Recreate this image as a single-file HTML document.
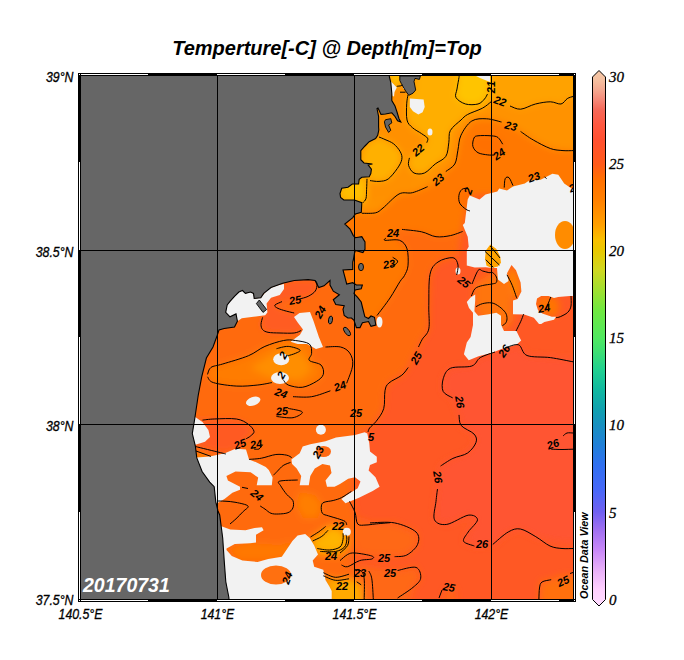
<!DOCTYPE html><html><head><meta charset="utf-8"><style>html,body{margin:0;padding:0;background:#fff}body{width:684px;height:660px;overflow:hidden}svg{display:block}text{font-family:"Liberation Sans",sans-serif}</style></head><body>
<svg width="684" height="660" viewBox="0 0 684 660">
<defs><clipPath id="cd"><rect x="81" y="76" width="492" height="523"/></clipPath><filter id="bl" x="-5%" y="-5%" width="110%" height="110%"><feGaussianBlur stdDeviation="3.5"/></filter>
<linearGradient id="cb" gradientUnits="userSpaceOnUse" x1="0" y1="70" x2="0" y2="606"><stop offset="0.0" stop-color="#F5C8A8"/><stop offset="0.0187" stop-color="#F5C0A0"/><stop offset="0.0373" stop-color="#F4A890"/><stop offset="0.056" stop-color="#F58878"/><stop offset="0.0746" stop-color="#F56858"/><stop offset="0.1026" stop-color="#FF5840"/><stop offset="0.1306" stop-color="#FF5030"/><stop offset="0.1754" stop-color="#FF5A1A"/><stop offset="0.2052" stop-color="#FF7000"/><stop offset="0.2425" stop-color="#FF8000"/><stop offset="0.2892" stop-color="#FFA000"/><stop offset="0.3172" stop-color="#F8C000"/><stop offset="0.3377" stop-color="#E8C800"/><stop offset="0.3731" stop-color="#D0D820"/><stop offset="0.4104" stop-color="#A0E030"/><stop offset="0.4478" stop-color="#70E840"/><stop offset="0.5" stop-color="#50E860"/><stop offset="0.5224" stop-color="#40E070"/><stop offset="0.5597" stop-color="#20D090"/><stop offset="0.597" stop-color="#10B8A0"/><stop offset="0.6343" stop-color="#10A0B0"/><stop offset="0.6623" stop-color="#1890C0"/><stop offset="0.6996" stop-color="#2080D8"/><stop offset="0.7369" stop-color="#3070F0"/><stop offset="0.7836" stop-color="#4868F8"/><stop offset="0.8246" stop-color="#7060F0"/><stop offset="0.8582" stop-color="#A070F0"/><stop offset="0.8955" stop-color="#C888F8"/><stop offset="0.9328" stop-color="#E8B0F8"/><stop offset="0.9701" stop-color="#FFD0FF"/><stop offset="1.0" stop-color="#FFDCFF"/></linearGradient>
</defs>
<g clip-path="url(#cd)">
<rect x="81" y="76" width="492" height="523" fill="#FF5824"/>
<g filter="url(#bl)">
<polygon points="518.5,344.8 527.0,355.5 550.3,357.6 620.0,362.0 620.0,547.5 554.2,541.3 535.8,536.7 520.4,529.0 508.2,532.0 492.8,544.4 474.4,546.0 463.6,541.3 468.2,532.0 477.5,519.8 468.2,515.2 446.8,524.4 434.5,519.8 436.0,501.4 437.5,489.0 440.6,466.0 452.9,458.4 467.6,453.0 476.0,442.4 474.0,434.0 461.2,425.5 459.0,414.9 452.7,397.9 443.2,391.5 443.2,378.8 450.6,368.2 471.8,366.0 480.3,357.6 505.0,350.0" fill="#FF5530" />
<polygon points="40.0,40.0 620.0,40.0 620.0,190.0 469.7,195.5 462.8,225.0 458.6,256.0 438.0,262.0 430.0,274.4 428.8,305.7 428.8,328.9 422.3,339.2 418.5,347.0 408.2,367.5 401.8,375.2 388.9,383.0 385.0,390.7 383.7,408.7 376.0,421.5 369.6,428.0 355.0,434.0 352.0,500.0 355.0,515.0 357.0,524.0 352.0,560.0 362.0,640.0 40.0,640.0" fill="#FF6A0E" />
<polygon points="262.6,317.4 261.0,324.4 262.6,329.6 268.0,332.3 280.0,333.0 294.2,333.0 301.2,330.5 305.0,320.0 294.2,313.0 283.7,310.4 276.7,307.7 275.0,305.0 282.0,301.6 299.5,299.0 308.2,296.3 315.3,291.0 317.0,284.0 315.3,280.5 290.0,280.0 265.0,300.0" fill="#FF5C20" />
<polygon points="40.0,40.0 620.0,40.0 620.0,190.0 469.7,195.5 462.8,225.0 462.6,231.5 450.4,235.6 436.0,236.7 421.5,231.8 402.0,229.4 392.0,234.0 400.0,244.0 407.0,248.8 408.0,265.8 404.5,275.5 400.0,281.5 390.0,298.0 377.0,315.5 366.0,326.0 354.0,300.0 340.0,283.0 300.0,272.0 40.0,272.0" fill="#FF7800" />
<polygon points="207.5,374.4 211.0,367.4 222.7,364.0 248.5,355.7 264.9,346.4 283.6,340.5 295.3,340.5 309.3,344.0 311.6,353.4 309.3,360.4 321.0,365.0 323.3,374.4 316.3,381.5 302.3,387.3 288.2,385.0 283.6,380.3 271.9,382.6 257.8,385.0 236.8,386.1 213.4,382.6" fill="#FF7C00" />
<polygon points="250.0,368.0 275.0,352.0 292.0,348.0 305.0,356.0 312.0,370.0 300.0,380.0 270.0,378.0" fill="#FF8E00" />
<polygon points="478.0,135.8 491.0,135.8 501.5,138.0 505.0,147.0 500.0,156.0 487.7,154.9 478.0,152.7 472.9,146.4 474.0,138.0" fill="#FF7000" />
<polygon points="465.5,188.2 459.4,192.7 458.6,203.3 464.0,209.4 470.0,211.0 472.0,195.0" fill="#FF7000" />
<polygon points="40.0,40.0 620.0,40.0 620.0,150.6 563.0,150.6 550.3,148.5 533.3,140.0 520.6,131.5 501.5,122.0 486.7,118.8 471.8,121.0 461.0,135.2 457.9,150.3 454.8,164.0 445.8,171.5 438.0,180.0 427.6,186.7 412.4,192.7 399.0,194.0 383.0,208.0 375.6,212.8 361.8,213.3 40.0,213.0" fill="#FF9200" />
<polygon points="380.0,40.0 420.0,40.0 414.0,90.0 408.0,94.8 406.7,103.8 407.0,120.0 412.4,127.6 421.5,133.6 427.6,138.2 426.8,142.7 418.0,150.0 409.4,157.9 408.6,165.5 414.0,173.0 424.5,173.0 400.0,195.0 370.0,200.0 350.0,160.0" fill="#FF9000" />
<polygon points="420.0,40.0 620.0,40.0 620.0,96.5 567.3,98.6 561.0,104.0 550.3,101.8 535.5,104.0 520.6,109.2 510.0,106.0 500.0,100.0 491.0,101.8 482.4,108.2 467.6,114.5 461.0,120.0 450.3,130.6 448.8,142.7 445.8,156.4 435.2,164.0 424.5,173.0 414.0,173.0 408.6,165.5 409.4,157.9 418.0,150.0 426.8,142.7 427.6,138.2 421.5,133.6 412.4,127.6 407.0,120.0 406.7,103.8 408.0,94.8 414.0,90.0" fill="#FFAE00" />
<polygon points="379.0,137.0 392.7,144.2 400.3,151.8 401.8,159.4 397.3,168.5 388.2,179.0 379.0,181.4 370.0,180.6 360.0,160.0 365.0,145.0" fill="#FFB000" />
<polygon points="366.0,178.0 366.6,189.4 366.0,200.0 362.9,202.7 340.0,200.0 340.0,185.0 358.0,177.0" fill="#FFBE00" />
<polygon points="389.0,40.0 400.0,40.0 401.0,84.0 397.0,86.5 391.0,84.0" fill="#FFC400" />
<polygon points="459.0,40.0 459.0,77.4 457.0,89.0 456.0,97.6 465.5,104.0 478.0,104.0 485.6,97.6 488.8,84.8 490.0,40.0" fill="#FFC400" />
<polygon points="474.0,284.0 497.0,270.0 508.0,281.0 513.0,300.0 513.0,320.0 504.0,331.0 478.0,316.0 474.0,300.0" fill="#FF7410" />
<polygon points="507.0,273.0 511.5,265.0 516.0,270.3 520.6,282.4 521.4,291.5 517.6,299.0 513.0,297.6 508.5,281.0" fill="#FF8200" />
<polygon points="537.0,297.0 556.0,297.0 560.0,306.0 556.0,317.0 542.0,314.0 536.0,304.0" fill="#FF7400" />
<polygon points="193.0,419.0 202.5,420.1 214.2,419.0 236.5,419.0 248.2,424.2 254.0,431.3 250.5,436.0 245.8,438.9 240.0,448.0 224.0,453.0 196.0,447.0" fill="#FF5A20" />
<polygon points="196.0,452.0 211.0,456.0 205.0,462.0 196.0,460.0" fill="#FF8400" />
<polygon points="355.0,518.0 370.0,522.9 394.6,522.9 416.0,532.0 417.6,544.4 406.8,555.0 394.6,556.7 373.0,556.7 355.0,553.0" fill="#FF6812" />
<polygon points="355.0,565.0 382.0,569.0 397.6,570.5 416.0,567.4 420.7,578.2 413.0,587.4 397.6,640.0 355.0,640.0" fill="#FF6812" />
<polygon points="442.0,640.0 445.0,590.0 455.0,588.0 460.0,640.0" fill="#FF6414" />
<polygon points="491.0,40.0 620.0,40.0 620.0,96.5 567.3,98.6 561.0,104.0 550.3,101.8 535.5,104.0 520.6,109.2 510.0,106.0 500.0,100.0 491.0,101.8" fill="#FFA200" />
<polygon points="538.9,640.0 540.4,581.2 551.2,579.7 560.0,576.0 620.0,572.0 620.0,640.0" fill="#FF7010" />
<polygon points="310.5,537.0 318.8,531.8 325.6,526.5 335.0,524.0 346.0,530.0 350.0,540.0 348.0,550.0 340.0,556.0 320.0,556.0 312.0,548.0" fill="#FF9000" />
<polygon points="312.7,541.0 321.8,536.4 328.0,530.3 335.0,528.0 343.0,533.3 346.0,539.4 344.5,547.0 335.5,551.5 320.3,551.5 314.0,546.0" fill="#FFB400" />
<polygon points="323.3,575.8 335.5,580.3 349.0,578.8 356.7,581.8 361.2,584.8 366.0,640.0 331.7,640.0 328.0,585.0" fill="#FFAA00" />
<polygon points="300.0,492.0 315.0,495.0 322.0,505.0 318.0,518.0 303.0,518.0 296.0,505.0" fill="#FF7E00" />
<polygon points="228.0,548.0 250.0,543.0 280.0,545.0 292.0,541.0 290.0,556.0 268.0,560.0 240.0,560.0" fill="#FF7800" />
</g>
<polygon points="476.0,76.0 490.0,76.0 490.0,82.0 485.0,80.0 480.0,78.0" fill="#F2F2F2" />
<polygon points="389.0,79.0 391.0,81.5 396.8,87.6 394.5,92.0 394.0,96.5 392.5,96.0 391.0,88.0" fill="#F2F2F2" />
<polygon points="403.0,85.8 405.0,86.0 405.2,89.0 403.2,89.0" fill="#F2F2F2" />
<polygon points="409.8,98.5 423.6,99.6 424.7,107.0 422.6,112.3 418.3,114.4 413.0,111.2 409.8,107.0" fill="#F2F2F2" />
<polygon points="220.0,300.0 227.2,305.0 230.0,301.4 234.5,296.3 238.9,292.0 242.5,290.5 245.4,293.4 250.6,292.0 253.5,293.4 254.2,298.5 260.8,297.8 268.0,289.0 276.9,285.4 284.0,283.9 284.0,289.0 279.8,294.9 271.0,297.8 266.6,303.6 267.4,312.4 265.2,315.3 253.5,316.8 241.8,318.2 237.4,321.2 236.0,313.9 230.0,316.8 225.7,312.4" fill="#F2F2F2" />
<polygon points="294.0,317.0 299.5,313.0 310.0,312.0 313.5,321.0 318.8,336.7 323.0,347.0 316.0,349.0 307.0,344.0 297.6,344.0 290.6,341.7 300.0,334.7 303.0,329.6 297.7,322.6" fill="#F2F2F2" />
<polygon points="190.0,417.0 195.5,417.2 202.5,421.9 208.4,430.0 210.0,437.0 205.0,441.8 195.5,444.7 190.0,440.0" fill="#F2F2F2" />
<polygon points="190.0,458.0 209.7,456.4 224.8,453.3 235.5,448.8 246.0,449.5 249.0,459.4 256.7,462.4 265.8,467.0 268.8,470.0 272.6,477.6 271.8,485.2 256.7,485.2 258.2,477.6 250.6,472.3 235.5,471.5 226.4,476.0 227.9,480.6 240.0,486.7 240.0,489.7 232.4,492.7 224.8,498.8 217.3,503.3 200.0,503.0" fill="#F2F2F2" />
<polygon points="291.4,459.4 299.7,453.3 302.7,446.5 310.3,444.2 325.5,441.2 336.0,437.4 355.0,435.0 364.6,432.3 367.3,433.6 369.3,443.2 370.0,451.4 376.8,456.8 376.8,462.3 370.0,465.0 368.6,470.5 375.5,477.3 379.6,486.8 372.7,491.0 359.0,497.8 345.5,503.2 341.4,499.0 346.8,495.0 357.7,488.2 360.5,481.4 355.0,477.3 348.2,478.7 340.0,484.0 334.5,486.7 327.0,486.7 325.5,480.6 331.5,473.0 330.0,465.5 322.4,464.0 314.8,468.5 310.3,476.0 308.8,485.2 299.7,485.2 301.2,476.0 296.7,468.5 292.1,464.0" fill="#F2F2F2" />
<polygon points="218.0,525.0 230.3,529.5 245.5,530.3 254.5,528.0 262.0,527.3 263.6,530.3 256.0,534.8 256.0,542.4 250.0,543.2 234.8,544.0 226.5,548.5 226.5,550.0 231.8,556.0 242.4,560.6 257.6,562.0 268.2,559.0 281.8,556.8 289.4,545.5 292.4,541.0 297.6,535.6 305.2,534.0 309.7,537.9 314.2,545.5 318.0,554.5 312.7,560.6 314.2,566.7 323.3,569.7 325.6,580.3 329.4,586.4 331.7,591.0 331.7,599.0 218.0,599.0" fill="#F2F2F2" />
<polygon points="469.7,195.5 479.5,199.4 485.5,194.5 497.3,191.5 499.2,188.6 507.0,190.5 513.0,186.6 524.8,183.6 528.8,180.7 540.6,179.7 552.4,173.8 558.3,174.8 564.2,183.6 573.0,189.5 573.0,296.0 569.8,296.0 558.2,297.0 554.0,298.0 548.6,296.0 541.2,296.0 537.0,298.6 536.0,304.0 538.0,310.3 542.3,313.5 551.8,316.7 556.0,316.7 554.0,319.8 544.4,322.0 541.2,324.0 539.0,324.0 533.8,317.7 524.2,314.5 513.0,314.2 513.0,300.6 517.6,299.0 521.4,291.5 520.6,282.4 516.0,270.3 511.5,265.0 507.0,273.3 508.5,281.0 504.0,284.0 497.9,279.4 497.0,268.0 491.8,268.0 485.8,267.3 474.7,267.6 466.8,265.6 466.8,250.0 468.7,246.7 467.7,236.8 462.8,225.0 464.8,223.0 467.7,199.4" fill="#F2F2F2" />
<polygon points="475.2,294.5 470.6,297.6 466.8,302.0 469.0,308.0 473.0,312.7 473.0,325.0 470.6,337.0 466.8,342.5 463.9,354.3 468.8,360.2 478.6,356.3 492.0,352.7 504.2,348.0 516.4,344.8 521.2,340.6 520.0,338.2 516.4,331.0 511.5,331.0 504.0,331.0 501.0,324.8 501.0,315.8 496.4,312.7 488.8,314.2 478.2,315.8 474.4,311.2 475.2,300.6" fill="#F2F2F2" />
<ellipse cx="458" cy="271" rx="2.5" ry="3.5" transform="rotate(0 458 271)" fill="#F2F2F2"/>
<ellipse cx="281.2" cy="359.2" rx="8" ry="6" transform="rotate(0 281.2 359.2)" fill="#F2F2F2"/>
<ellipse cx="280" cy="378" rx="9" ry="6" transform="rotate(0 280 378)" fill="#F2F2F2"/>
<ellipse cx="253.2" cy="401.3" rx="7.5" ry="4.2" transform="rotate(-20 253.2 401.3)" fill="#F2F2F2"/>
<ellipse cx="320.9" cy="429.8" rx="5" ry="5" transform="rotate(0 320.9 429.8)" fill="#F2F2F2"/>
<ellipse cx="346.8" cy="531.8" rx="4" ry="4" transform="rotate(0 346.8 531.8)" fill="#F2F2F2"/>
<ellipse cx="430" cy="132" rx="2.5" ry="3.5" transform="rotate(0 430 132)" fill="#F2F2F2"/>
<ellipse cx="379.5" cy="322" rx="3" ry="5.5" transform="rotate(0 379.5 322)" fill="#F2F2F2"/>
<ellipse cx="565" cy="235" rx="10" ry="14" fill="#FF8C00"/>
<ellipse cx="323.5" cy="451.5" rx="7.5" ry="5.5" fill="#FF6A14"/>
<ellipse cx="276" cy="575" rx="15" ry="9.5" fill="#FF7010"/>
<polygon points="490.3,244.5 496.4,249.0 500.2,256.7 501.0,262.7 497.9,266.5 491.8,268.0 486.5,265.8 485.0,258.2 485.8,250.6" fill="#FFA400" />
<polygon points="81.0,76.0 389.2,76.0 390.8,82.6 391.8,93.0 391.8,100.6 395.0,106.0 397.0,112.0 399.0,118.7 400.8,122.0 397.6,120.8 395.0,116.5 391.8,112.8 385.5,114.0 381.0,114.4 378.0,108.0 377.0,108.6 378.6,116.5 378.6,127.0 378.8,130.0 377.7,135.3 375.6,138.5 369.2,141.7 365.0,146.0 360.8,150.7 360.8,159.7 364.0,163.0 372.4,164.0 368.2,165.0 371.4,169.2 370.8,173.5 369.2,176.7 361.8,177.2 359.2,179.3 358.6,184.0 352.3,184.0 348.0,187.3 341.7,188.3 340.0,193.6 340.6,197.4 343.8,200.0 354.4,200.0 361.8,202.7 361.3,212.3 355.4,213.9 352.8,217.6 344.8,224.0 350.1,229.2 353.3,235.6 355.4,237.7 361.8,236.7 365.0,242.0 365.0,249.4 362.9,252.6 355.4,250.4 354.4,253.6 353.3,260.0 352.7,262.0 352.7,269.4 343.0,270.0 346.7,284.0 352.7,282.7 356.4,285.0 362.4,285.0 361.2,288.8 355.0,290.0 354.0,293.6 357.6,297.3 361.2,302.0 362.4,307.0 364.8,316.7 368.5,318.5 371.0,316.0 374.5,317.3 375.8,325.0 371.0,326.4 368.5,321.5 362.4,322.7 360.0,327.6 356.4,327.6 354.0,320.3 351.5,318.0 347.9,318.0 344.2,315.5 343.0,309.4 344.2,305.8 335.8,304.5 333.3,299.7 339.4,294.8 333.3,291.2 330.0,285.0 330.0,280.5 324.0,285.8 318.8,287.5 315.0,280.5 308.2,279.6 294.2,280.5 282.7,283.2 271.0,287.5 263.7,293.4 260.8,297.8 254.2,298.5 253.5,293.4 250.6,292.0 245.4,293.4 242.5,290.5 238.9,292.0 234.5,296.3 230.0,301.4 227.2,305.0 225.7,312.4 230.0,316.8 236.0,313.9 237.4,321.2 234.5,327.0 224.2,328.5 219.0,330.0 217.0,336.0 213.0,347.0 206.4,358.0 201.7,376.8 198.2,395.5 194.7,419.0 192.3,433.6 195.3,445.8 196.8,457.9 202.1,471.5 209.7,482.1 214.2,486.7 215.8,501.8 218.0,511.0 219.7,515.0 222.7,538.0 224.2,560.6 225.8,581.8 228.8,597.0 229.0,599.0 81.0,599.0" fill="#666666" />
<polygon points="385.5,119.7 390.8,118.7 391.8,122.9 388.6,125.0 390.8,130.3 388.6,132.4 385.5,127.0 384.4,121.8" fill="#666666" stroke="#000" stroke-width="0.9"/>
<polygon points="399.8,76.0 420.4,76.0 419.4,79.4 415.0,78.4 414.0,81.5 415.7,90.0 413.0,93.2 408.8,95.3 405.6,91.0 401.4,83.7 399.8,80.5" fill="#666666" stroke="#000" stroke-width="0.9"/>
<polygon points="256.4,303.6 259.3,300.0 266.6,309.5 263.0,312.4" fill="#666666" stroke="#000" stroke-width="0.9"/>
<ellipse cx="361" cy="267" rx="2.5" ry="3.7" transform="rotate(0 361 267)" fill="#666666" stroke="#000" stroke-width="0.9"/>
<ellipse cx="347" cy="331.5" rx="2.2" ry="5" transform="rotate(-35 347 331.5)" fill="#666666" stroke="#000" stroke-width="0.9"/>
<ellipse cx="330.5" cy="320" rx="2" ry="4" transform="rotate(10 330.5 320)" fill="#666666" stroke="#000" stroke-width="0.9"/>
<polyline points="389.2,76.0 390.8,82.6 391.8,93.0 391.8,100.6 395.0,106.0 397.0,112.0 399.0,118.7 400.8,122.0 397.6,120.8 395.0,116.5 391.8,112.8 385.5,114.0 381.0,114.4 378.0,108.0 377.0,108.6 378.6,116.5 378.6,127.0 378.8,130.0 377.7,135.3 375.6,138.5 369.2,141.7 365.0,146.0 360.8,150.7 360.8,159.7 364.0,163.0 372.4,164.0 368.2,165.0 371.4,169.2 370.8,173.5 369.2,176.7 361.8,177.2 359.2,179.3 358.6,184.0 352.3,184.0 348.0,187.3 341.7,188.3 340.0,193.6 340.6,197.4 343.8,200.0 354.4,200.0 361.8,202.7 361.3,212.3 355.4,213.9 352.8,217.6 344.8,224.0 350.1,229.2 353.3,235.6 355.4,237.7 361.8,236.7 365.0,242.0 365.0,249.4 362.9,252.6 355.4,250.4 354.4,253.6 353.3,260.0 352.7,262.0 352.7,269.4 343.0,270.0 346.7,284.0 352.7,282.7 356.4,285.0 362.4,285.0 361.2,288.8 355.0,290.0 354.0,293.6 357.6,297.3 361.2,302.0 362.4,307.0 364.8,316.7 368.5,318.5 371.0,316.0 374.5,317.3 375.8,325.0 371.0,326.4 368.5,321.5 362.4,322.7 360.0,327.6 356.4,327.6 354.0,320.3 351.5,318.0 347.9,318.0 344.2,315.5 343.0,309.4 344.2,305.8 335.8,304.5 333.3,299.7 339.4,294.8 333.3,291.2 330.0,285.0 330.0,280.5 324.0,285.8 318.8,287.5 315.0,280.5 308.2,279.6 294.2,280.5 282.7,283.2 271.0,287.5 263.7,293.4 260.8,297.8 254.2,298.5 253.5,293.4 250.6,292.0 245.4,293.4 242.5,290.5 238.9,292.0 234.5,296.3 230.0,301.4 227.2,305.0 225.7,312.4 230.0,316.8 236.0,313.9 237.4,321.2 234.5,327.0 224.2,328.5 219.0,330.0 217.0,336.0 213.0,347.0 206.4,358.0 201.7,376.8 198.2,395.5 194.7,419.0 192.3,433.6 195.3,445.8 196.8,457.9 202.1,471.5 209.7,482.1 214.2,486.7 215.8,501.8 218.0,511.0 219.7,515.0 222.7,538.0 224.2,560.6 225.8,581.8 228.8,597.0 229.0,599.0" fill="none" stroke="#000" stroke-width="1.1"/>
<path d="M459.0,76.0 C459.0,76.2 459.3,75.2 459.0,77.4 C458.7,79.6 457.5,85.6 457.0,89.0 C456.5,92.4 454.6,95.1 456.0,97.6 C457.4,100.1 461.8,102.9 465.5,104.0 C469.2,105.1 474.8,104.8 478.0,104.0 C481.2,103.2 482.9,100.7 484.5,99.0 C486.1,97.3 487.0,94.8 487.5,94.0" fill="none" stroke="#000" stroke-width="1" stroke-linejoin="round" />
<path d="M408.0,94.8 C407.8,96.3 406.9,99.6 406.7,103.8 C406.5,108.0 406.1,116.0 407.0,120.0 C407.9,124.0 410.0,125.3 412.4,127.6 C414.8,129.9 419.0,131.8 421.5,133.6 C424.0,135.4 426.7,136.7 427.6,138.2 C428.5,139.7 426.9,141.9 426.8,142.7" fill="none" stroke="#000" stroke-width="1" stroke-linejoin="round" />
<path d="M409.4,157.9 C409.3,159.2 407.8,163.0 408.6,165.5 C409.4,168.0 411.4,171.8 414.0,173.0 C416.6,174.2 421.0,174.5 424.5,173.0 C428.0,171.5 431.6,166.8 435.2,164.0 C438.8,161.2 443.5,160.0 445.8,156.4 C448.1,152.8 448.1,147.0 448.8,142.7 C449.6,138.4 448.3,134.4 450.3,130.6 C452.3,126.8 458.1,122.7 461.0,120.0 C463.9,117.3 464.0,116.5 467.6,114.5 C471.2,112.5 478.5,110.3 482.4,108.2 C486.3,106.1 489.6,102.9 491.0,101.8" fill="none" stroke="#000" stroke-width="1" stroke-linejoin="round" />
<path d="M510.0,106.0 C511.8,106.5 516.4,109.5 520.6,109.2 C524.9,108.9 530.5,105.2 535.5,104.0 C540.5,102.8 546.0,101.8 550.3,101.8 C554.5,101.8 558.2,104.5 561.0,104.0 C563.8,103.5 565.3,99.8 567.3,98.6 C569.3,97.3 572.0,96.8 573.0,96.5" fill="none" stroke="#000" stroke-width="1" stroke-linejoin="round" />
<path d="M379.0,137.0 C380.0,137.4 382.6,138.4 385.0,139.5 C387.4,140.6 391.1,141.8 393.6,143.8 C396.2,145.9 398.9,149.2 400.3,151.8 C401.7,154.4 402.3,156.6 401.8,159.4 C401.3,162.2 399.6,165.2 397.3,168.5 C395.0,171.8 391.2,176.8 388.2,179.0 C385.1,181.2 382.0,181.1 379.0,181.4 C376.0,181.7 371.5,180.7 370.0,180.6" fill="none" stroke="#000" stroke-width="1" stroke-linejoin="round" />
<path d="M367.0,178.8 C366.9,180.6 366.8,186.1 366.6,189.4 C366.4,192.7 366.6,196.3 366.0,198.5 C365.4,200.7 363.4,202.0 362.9,202.7" fill="none" stroke="#000" stroke-width="1" stroke-linejoin="round" />
<path d="M361.8,213.3 C364.1,213.2 372.1,213.7 375.6,212.8 C379.1,211.9 379.1,211.1 383.0,208.0 C386.9,204.9 394.1,196.6 399.0,194.0 C403.9,191.4 407.6,193.9 412.4,192.7 C417.2,191.5 425.1,187.7 427.6,186.7" fill="none" stroke="#000" stroke-width="1" stroke-linejoin="round" />
<path d="M445.8,171.5 C447.3,170.2 452.8,167.5 454.8,164.0 C456.8,160.5 456.9,155.1 457.9,150.3 C458.9,145.5 458.7,140.1 461.0,135.2 C463.3,130.3 467.5,123.7 471.8,121.0 C476.1,118.3 481.8,118.6 486.7,118.8 C491.6,119.0 499.0,121.5 501.5,122.0" fill="none" stroke="#000" stroke-width="1" stroke-linejoin="round" />
<path d="M520.6,131.5 C522.7,132.9 528.3,137.2 533.3,140.0 C538.2,142.8 545.3,146.7 550.3,148.5 C555.2,150.3 559.2,150.2 563.0,150.6 C566.8,150.9 571.3,150.6 573.0,150.6" fill="none" stroke="#000" stroke-width="1" stroke-linejoin="round" />
<path d="M494.0,155.0 C492.9,155.0 490.4,155.3 487.7,154.9 C485.0,154.5 480.5,154.1 478.0,152.7 C475.5,151.3 473.6,148.8 472.9,146.4 C472.2,144.0 473.1,139.8 474.0,138.0 C474.9,136.2 475.2,136.2 478.0,135.8 C480.8,135.4 487.7,135.5 491.0,135.8 C494.3,136.1 496.1,136.1 498.0,137.5 C499.9,138.9 501.9,143.1 502.7,144.2" fill="none" stroke="#000" stroke-width="1" stroke-linejoin="round" />
<path d="M468.0,188.0 C467.0,188.2 463.3,188.2 461.8,189.5 C460.3,190.8 459.2,193.2 458.9,195.5 C458.6,197.8 458.6,201.0 459.8,203.3 C461.0,205.6 464.1,207.9 465.8,209.2 C467.5,210.5 469.3,210.7 470.0,211.0" fill="none" stroke="#000" stroke-width="1" stroke-linejoin="round" />
<path d="M504.2,187.6 C504.4,186.1 504.4,180.3 505.2,178.7 C506.0,177.0 507.7,176.5 509.0,177.7 C510.3,178.8 512.3,184.3 513.0,185.6" fill="none" stroke="#000" stroke-width="1" stroke-linejoin="round" />
<path d="M544.5,176.7 L546.5,178.7" fill="none" stroke="#000" stroke-width="1" stroke-linejoin="round" />
<path d="M462.6,231.5 C460.6,232.2 454.8,234.7 450.4,235.6 C446.0,236.5 440.8,237.3 436.0,236.7 C431.2,236.1 427.2,233.0 421.5,231.8 C415.8,230.6 405.2,229.8 402.0,229.4" fill="none" stroke="#000" stroke-width="1" stroke-linejoin="round" />
<path d="M386.0,238.0 C385.8,238.4 382.7,239.9 385.0,240.3 C387.3,240.7 395.9,238.9 399.6,240.3 C403.3,241.7 405.6,244.6 407.0,248.8 C408.4,253.1 408.4,261.4 408.0,265.8 C407.6,270.2 405.8,272.9 404.5,275.5 C403.2,278.1 402.4,277.8 400.0,281.5 C397.6,285.2 393.8,292.3 390.0,298.0 C386.2,303.7 379.2,312.6 377.0,315.5" fill="none" stroke="#000" stroke-width="1" stroke-linejoin="round" />
<path d="M392.7,257.3 C393.5,257.9 397.2,259.8 397.6,261.0 C398.0,262.2 396.4,263.7 395.2,264.5 C394.0,265.3 391.1,265.6 390.3,265.8" fill="none" stroke="#000" stroke-width="1" stroke-linejoin="round" />
<path d="M456.7,275.0 C456.9,273.3 458.6,267.9 458.0,265.0 C457.4,262.1 456.3,258.2 453.0,257.7 C449.7,257.2 441.8,259.2 438.0,262.0 C434.2,264.8 431.5,267.1 430.0,274.4 C428.5,281.7 429.0,296.6 428.8,305.7 C428.6,314.8 429.9,323.3 428.8,328.9 C427.7,334.5 424.0,336.2 422.3,339.2 C420.6,342.2 419.1,345.7 418.5,347.0" fill="none" stroke="#000" stroke-width="1" stroke-linejoin="round" />
<path d="M408.2,367.5 C407.1,368.8 405.0,372.6 401.8,375.2 C398.6,377.8 391.7,380.4 388.9,383.0 C386.1,385.6 385.9,386.4 385.0,390.7 C384.1,395.0 385.2,403.6 383.7,408.7 C382.2,413.8 378.4,418.3 376.0,421.5 C373.6,424.7 370.9,426.2 369.6,428.0 C368.3,429.8 368.3,431.3 368.0,432.0" fill="none" stroke="#000" stroke-width="1" stroke-linejoin="round" />
<path d="M505.0,348.0 C507.2,347.5 514.8,343.6 518.5,344.8 C522.2,346.1 521.7,353.4 527.0,355.5 C532.3,357.6 542.6,356.6 550.3,357.6 C558.0,358.7 569.2,361.1 573.0,361.8" fill="none" stroke="#000" stroke-width="1" stroke-linejoin="round" />
<path d="M495.0,352.0 C492.6,352.9 484.2,355.3 480.3,357.6 C476.4,359.9 476.8,364.2 471.8,366.0 C466.9,367.8 455.4,366.1 450.6,368.2 C445.8,370.3 444.4,374.9 443.2,378.8 C442.0,382.7 441.6,388.3 443.2,391.5 C444.8,394.7 451.1,396.8 452.7,397.9" fill="none" stroke="#000" stroke-width="1" stroke-linejoin="round" />
<path d="M459.0,414.9 C459.4,416.7 458.7,422.3 461.2,425.5 C463.7,428.7 471.5,431.2 474.0,434.0 C476.5,436.8 477.1,439.2 476.0,442.4 C474.9,445.6 471.5,450.3 467.6,453.0 C463.8,455.7 457.4,456.2 452.9,458.4 C448.4,460.6 442.7,464.7 440.6,466.0" fill="none" stroke="#000" stroke-width="1" stroke-linejoin="round" />
<path d="M437.5,489.0 C437.2,491.1 436.5,496.3 436.0,501.4 C435.5,506.5 432.7,516.0 434.5,519.8 C436.3,523.6 441.2,525.2 446.8,524.4 C452.4,523.6 463.1,516.0 468.2,515.2 C473.3,514.4 477.5,517.0 477.5,519.8 C477.5,522.6 470.5,528.4 468.2,532.0 C465.9,535.6 462.6,539.0 463.6,541.3 C464.6,543.6 472.6,545.2 474.4,546.0" fill="none" stroke="#000" stroke-width="1" stroke-linejoin="round" />
<path d="M492.8,544.4 C495.4,542.3 503.6,534.6 508.2,532.0 C512.8,529.4 515.8,528.2 520.4,529.0 C525.0,529.8 530.9,533.9 535.8,536.7 C540.7,539.5 545.6,544.0 550.0,546.0 C554.4,548.0 558.2,548.1 562.0,548.5 C565.8,548.9 571.2,548.5 573.0,548.5" fill="none" stroke="#000" stroke-width="1" stroke-linejoin="round" />
<path d="M551.2,449.2 C553.0,449.2 558.4,449.5 562.0,449.5 C565.6,449.5 571.2,449.2 573.0,449.2" fill="none" stroke="#000" stroke-width="1" stroke-linejoin="round" />
<path d="M563.0,436.0 C563.7,435.5 565.3,433.5 567.0,433.0 C568.7,432.5 572.0,433.0 573.0,433.0" fill="none" stroke="#000" stroke-width="1" stroke-linejoin="round" />
<path d="M475.9,306.7 C477.0,306.2 480.0,304.2 482.7,303.6 C485.4,303.0 489.0,302.4 491.8,302.9 C494.6,303.4 497.1,305.1 499.4,306.7 C501.7,308.3 504.2,310.7 505.5,312.7 C506.8,314.7 507.0,317.0 507.0,318.8 C507.0,320.6 506.3,322.2 505.5,323.3 C504.7,324.4 502.9,325.2 502.4,325.6" fill="none" stroke="#000" stroke-width="1" stroke-linejoin="round" />
<path d="M472.0,284.0 C473.0,281.7 476.4,272.5 478.2,270.3 C480.0,268.1 480.9,270.6 482.7,271.0 C484.5,271.4 487.1,272.3 488.8,272.6 C490.5,272.9 491.3,271.9 492.6,272.6 C493.9,273.3 495.8,275.4 496.4,277.0 C497.0,278.6 497.2,281.2 496.4,282.4 C495.6,283.6 494.1,283.5 491.8,284.0 C489.5,284.5 485.5,284.8 482.7,285.5 C479.9,286.2 477.1,286.8 475.2,288.5 C473.3,290.2 472.0,294.8 471.4,296.0" fill="none" stroke="#000" stroke-width="1" stroke-linejoin="round" />
<path d="M507.0,274.8 C507.9,276.6 510.7,281.6 512.3,285.5 C513.9,289.4 516.0,296.2 516.8,298.3" fill="none" stroke="#000" stroke-width="1" stroke-linejoin="round" />
<path d="M523.6,314.2 C523.1,315.5 521.9,319.0 520.6,321.8 C519.3,324.6 516.8,329.5 516.0,331.0" fill="none" stroke="#000" stroke-width="1" stroke-linejoin="round" />
<path d="M485.0,251.4 L499.4,265.0" fill="none" stroke="#000" stroke-width="1" stroke-linejoin="round" />
<path d="M485.8,259.7 L493.3,267.3" fill="none" stroke="#000" stroke-width="1" stroke-linejoin="round" />
<path d="M490.3,246.0 L500.0,258.0" fill="none" stroke="#000" stroke-width="1" stroke-linejoin="round" />
<path d="M550.8,297.0 C550.3,298.3 548.5,302.8 547.6,305.0 C546.7,307.2 545.9,309.4 545.5,310.3" fill="none" stroke="#000" stroke-width="1" stroke-linejoin="round" />
<path d="M571.0,296.0 C571.0,297.7 571.5,303.3 571.0,306.0 C570.5,308.7 569.5,310.6 567.7,312.4 C565.9,314.2 562.2,315.8 560.3,316.7 C558.3,317.6 556.7,317.5 556.0,317.7" fill="none" stroke="#000" stroke-width="1" stroke-linejoin="round" />
<path d="M396.8,86.3 C397.5,86.2 400.0,86.0 400.9,85.8 C401.8,85.6 402.1,85.1 402.3,85.0" fill="none" stroke="#000" stroke-width="1" stroke-linejoin="round" />
<path d="M400.0,92.2 L405.5,92.2" fill="none" stroke="#000" stroke-width="1" stroke-linejoin="round" />
<path d="M207.5,374.4 C208.1,373.2 208.5,369.1 211.0,367.4 C213.5,365.7 216.4,365.9 222.7,364.0 C228.9,362.1 241.5,358.6 248.5,355.7 C255.5,352.8 259.0,348.9 264.9,346.4 C270.8,343.9 278.5,341.5 283.6,340.5 C288.7,339.5 291.0,339.9 295.3,340.5 C299.6,341.1 306.6,341.9 309.3,344.0 C312.0,346.1 311.6,350.7 311.6,353.4 C311.6,356.1 307.7,358.5 309.3,360.4 C310.9,362.3 318.7,362.7 321.0,365.0 C323.3,367.3 324.1,371.6 323.3,374.4 C322.5,377.1 319.8,379.4 316.3,381.5 C312.8,383.6 307.0,386.7 302.3,387.3 C297.6,387.9 291.3,386.2 288.2,385.0 C285.1,383.8 284.4,381.1 283.6,380.3" fill="none" stroke="#000" stroke-width="1" stroke-linejoin="round" />
<path d="M271.9,382.6 C269.5,383.0 263.6,384.4 257.8,385.0 C252.0,385.6 244.2,386.5 236.8,386.1 C229.4,385.7 218.3,384.2 213.4,382.6 C208.5,381.1 208.5,377.8 207.5,376.8" fill="none" stroke="#000" stroke-width="1" stroke-linejoin="round" />
<path d="M276.5,348.7 C278.4,348.3 284.3,346.2 288.2,346.4 C292.1,346.6 298.8,348.8 300.0,350.0 C301.2,351.2 297.3,352.4 295.3,353.4 C293.3,354.3 289.4,355.3 288.2,355.7" fill="none" stroke="#000" stroke-width="1" stroke-linejoin="round" />
<path d="M293.0,396.7 C296.1,396.7 305.4,397.7 311.6,396.7 C317.8,395.7 327.3,391.8 330.4,390.8" fill="none" stroke="#000" stroke-width="1" stroke-linejoin="round" />
<path d="M346.7,383.3 C347.7,380.2 352.2,370.1 352.7,365.0 C353.2,359.9 351.7,356.0 349.7,353.0 C347.7,350.0 344.6,348.0 340.6,347.0 C336.6,346.0 328.0,347.0 325.5,347.0" fill="none" stroke="#000" stroke-width="1" stroke-linejoin="round" />
<path d="M288.2,408.4 C290.6,409.0 301.5,410.4 302.3,412.0 C303.1,413.6 297.3,416.9 293.0,417.7 C288.7,418.4 279.2,416.7 276.5,416.5" fill="none" stroke="#000" stroke-width="1" stroke-linejoin="round" />
<path d="M299.5,299.0 C300.9,298.6 305.6,297.6 308.2,296.3 C310.8,295.0 313.8,293.1 315.3,291.0 C316.8,288.9 317.0,285.8 317.0,284.0 C317.0,282.2 315.6,281.1 315.3,280.5" fill="none" stroke="#000" stroke-width="1" stroke-linejoin="round" />
<path d="M282.0,301.6 C280.8,302.2 275.9,304.0 275.0,305.0 C274.1,306.0 275.2,306.8 276.7,307.7 C278.1,308.6 280.8,309.5 283.7,310.4 C286.6,311.3 292.4,312.6 294.2,313.0" fill="none" stroke="#000" stroke-width="1" stroke-linejoin="round" />
<path d="M262.6,317.4 C262.3,318.6 261.0,322.4 261.0,324.4 C261.0,326.4 261.4,328.3 262.6,329.6 C263.8,330.9 265.1,331.7 268.0,332.3 C270.9,332.9 275.6,332.9 280.0,333.0 C284.4,333.1 290.7,333.4 294.2,333.0 C297.7,332.6 300.0,330.9 301.2,330.5" fill="none" stroke="#000" stroke-width="1" stroke-linejoin="round" />
<path d="M370.0,522.9 C374.1,522.9 386.9,521.4 394.6,522.9 C402.3,524.4 412.2,528.4 416.0,532.0 C419.8,535.6 419.1,540.6 417.6,544.4 C416.1,548.2 410.6,553.0 406.8,555.0 C403.0,557.0 396.6,556.4 394.6,556.7" fill="none" stroke="#000" stroke-width="1" stroke-linejoin="round" />
<path d="M397.6,570.5 C400.7,570.0 412.1,566.1 416.0,567.4 C419.9,568.7 421.2,574.9 420.7,578.2 C420.2,581.5 416.9,584.1 413.0,587.4 C409.1,590.7 400.2,596.2 397.6,598.0" fill="none" stroke="#000" stroke-width="1" stroke-linejoin="round" />
<path d="M439.0,598.0 L442.0,590.0" fill="none" stroke="#000" stroke-width="1" stroke-linejoin="round" />
<path d="M538.9,599.0 C539.0,597.2 539.0,590.8 539.5,588.0 C540.0,585.2 540.0,583.4 542.0,582.0 C544.0,580.6 549.7,580.1 551.2,579.7" fill="none" stroke="#000" stroke-width="1" stroke-linejoin="round" />
<path d="M570.0,573.5 L573.0,572.5" fill="none" stroke="#000" stroke-width="1" stroke-linejoin="round" />
<path d="M351.4,491.4 C349.7,492.4 344.4,496.2 341.4,497.7 C338.4,499.2 336.1,499.7 333.2,500.5 C330.3,501.3 326.0,501.4 324.0,502.3 C322.0,503.2 321.7,504.1 321.4,505.9 C321.1,507.7 321.1,511.5 322.3,513.2 C323.5,514.9 326.0,515.0 328.6,515.9 C331.2,516.8 335.0,517.7 337.7,518.6 C340.4,519.5 343.5,520.3 345.0,521.4 C346.5,522.5 346.5,524.4 346.8,525.0" fill="none" stroke="#000" stroke-width="1" stroke-linejoin="round" />
<path d="M349.5,501.4 C350.4,503.2 353.6,508.5 355.0,512.3 C356.4,516.1 355.9,521.9 357.7,524.0 C359.5,526.1 363.1,525.0 366.0,525.0 C368.9,525.0 371.0,524.4 375.0,524.0 C379.0,523.6 387.5,522.9 390.0,522.7" fill="none" stroke="#000" stroke-width="1" stroke-linejoin="round" />
<path d="M310.5,537.0 C311.9,536.1 316.3,533.5 318.8,531.8 C321.3,530.0 324.5,527.4 325.6,526.5" fill="none" stroke="#000" stroke-width="1" stroke-linejoin="round" />
<path d="M312.7,541.0 C314.2,540.2 319.2,538.2 321.8,536.4 C324.4,534.6 327.0,531.3 328.0,530.3" fill="none" stroke="#000" stroke-width="1" stroke-linejoin="round" />
<path d="M317.3,548.5 C319.3,548.8 325.6,550.2 329.4,550.0 C333.2,549.8 337.7,548.8 340.0,547.0 C342.3,545.2 342.5,541.7 343.0,539.4 C343.5,537.1 343.0,534.3 343.0,533.3" fill="none" stroke="#000" stroke-width="1" stroke-linejoin="round" />
<path d="M320.3,551.5 C322.8,551.5 331.5,552.2 335.5,551.5 C339.5,550.8 342.6,549.0 344.5,547.0 C346.4,545.0 346.6,541.4 346.8,539.4 C347.1,537.4 346.1,535.6 346.0,534.8" fill="none" stroke="#000" stroke-width="1" stroke-linejoin="round" />
<path d="M340.0,553.0 C341.3,551.8 346.1,548.3 347.6,545.5 C349.1,542.7 348.8,537.9 349.0,536.4" fill="none" stroke="#000" stroke-width="1" stroke-linejoin="round" />
<path d="M340.0,560.6 C341.3,559.6 345.1,555.8 347.6,554.5 C350.1,553.2 351.0,552.8 355.0,553.0 C359.0,553.2 369.0,555.0 371.8,556.0 C374.6,557.0 373.8,558.2 371.8,559.0 C369.8,559.8 363.7,559.3 359.7,560.6 C355.7,561.9 350.6,566.0 347.6,566.7 C344.6,567.4 342.5,565.3 341.5,565.0" fill="none" stroke="#000" stroke-width="1" stroke-linejoin="round" />
<path d="M323.3,572.7 C325.3,573.5 331.2,577.0 335.5,577.3 C339.8,577.5 346.8,574.7 349.0,574.2" fill="none" stroke="#000" stroke-width="1" stroke-linejoin="round" />
<path d="M323.3,575.8 C325.3,576.5 331.2,579.8 335.5,580.3 C339.8,580.8 346.8,579.0 349.0,578.8" fill="none" stroke="#000" stroke-width="1" stroke-linejoin="round" />
<path d="M355.0,569.7 C356.0,569.9 359.7,569.5 361.2,571.0 C362.7,572.5 363.7,574.1 364.2,578.8 C364.7,583.5 364.2,595.6 364.2,599.0" fill="none" stroke="#000" stroke-width="1" stroke-linejoin="round" />
<path d="M368.8,571.0 C369.3,572.3 371.1,574.1 371.8,578.8 C372.6,583.5 373.1,595.6 373.3,599.0" fill="none" stroke="#000" stroke-width="1" stroke-linejoin="round" />
<path d="M356.7,581.8 L361.2,584.8" fill="none" stroke="#000" stroke-width="1" stroke-linejoin="round" />
<path d="M195.3,446.5 C199.5,447.5 215.2,451.4 220.3,452.6 C225.4,453.9 225.1,453.8 226.0,454.0" fill="none" stroke="#000" stroke-width="1" stroke-linejoin="round" />
<path d="M196.0,451.0 L211.0,456.4" fill="none" stroke="#000" stroke-width="1" stroke-linejoin="round" />
<path d="M249.2,459.4 C251.2,459.2 256.9,459.0 261.4,458.2 C265.8,457.4 271.7,455.0 275.9,454.5 C280.1,454.0 284.2,454.7 286.8,455.2 C289.4,455.7 290.9,457.2 291.7,457.6" fill="none" stroke="#000" stroke-width="1" stroke-linejoin="round" />
<path d="M290.5,462.4 C289.3,462.9 285.4,464.0 283.2,465.5 C281.0,467.0 278.7,469.9 277.1,471.5 C275.5,473.1 274.1,474.6 273.5,475.2" fill="none" stroke="#000" stroke-width="1" stroke-linejoin="round" />
<path d="M297.7,480.0 C294.7,480.2 282.3,480.2 279.5,481.2 C276.7,482.2 279.6,483.8 280.8,486.0 C282.0,488.2 284.8,492.1 286.8,494.5 C288.8,496.9 291.9,498.4 292.9,500.6 C293.9,502.8 293.7,505.9 292.9,507.9 C292.1,509.9 290.4,511.7 288.0,512.7 C285.6,513.7 281.1,513.9 278.3,514.0 C275.5,514.1 273.2,514.1 271.0,513.3 C268.8,512.5 266.8,510.3 265.0,509.1 C263.2,507.9 261.0,506.5 260.2,506.0" fill="none" stroke="#000" stroke-width="1" stroke-linejoin="round" />
<path d="M242.0,487.3 L248.0,488.5" fill="none" stroke="#000" stroke-width="1" stroke-linejoin="round" />
<path d="M217.0,501.0 C218.3,501.0 221.8,501.0 225.0,501.2 C228.2,501.4 232.2,501.6 236.0,502.4 C239.8,503.2 246.8,504.5 248.0,506.0 C249.2,507.5 245.2,509.4 243.2,511.5 C241.2,513.6 238.2,516.7 236.0,518.8 C233.8,520.9 231.0,523.1 230.0,524.0" fill="none" stroke="#000" stroke-width="1" stroke-linejoin="round" />
<path d="M202.5,420.1 C204.4,419.9 208.5,419.2 214.2,419.0 C219.9,418.8 230.8,418.1 236.5,419.0 C242.2,419.9 245.3,422.1 248.2,424.2 C251.1,426.2 253.6,429.3 254.0,431.3 C254.4,433.3 251.9,434.7 250.5,436.0 C249.1,437.3 246.6,438.4 245.8,438.9" fill="none" stroke="#000" stroke-width="1" stroke-linejoin="round" />
<path d="M262.6,444.8 C262.0,445.5 260.4,448.3 259.0,449.0 C257.6,449.7 254.8,449.0 254.0,449.0" fill="none" stroke="#000" stroke-width="1" stroke-linejoin="round" />
<text x="491" y="87" font-size="11" font-weight="bold" font-style="italic" text-anchor="middle" dominant-baseline="central" transform="rotate(-90 491 87)" fill="#000">21</text>
<text x="500" y="101" font-size="11" font-weight="bold" font-style="italic" text-anchor="middle" dominant-baseline="central" transform="rotate(20 500 101)" fill="#000">22</text>
<text x="418" y="150" font-size="11" font-weight="bold" font-style="italic" text-anchor="middle" dominant-baseline="central" transform="rotate(-40 418 150)" fill="#000">22</text>
<text x="438" y="179.5" font-size="11" font-weight="bold" font-style="italic" text-anchor="middle" dominant-baseline="central" transform="rotate(-40 438 179.5)" fill="#000">23</text>
<text x="511" y="126" font-size="11" font-weight="bold" font-style="italic" text-anchor="middle" dominant-baseline="central" transform="rotate(15 511 126)" fill="#000">23</text>
<text x="499" y="154" font-size="11" font-weight="bold" font-style="italic" text-anchor="middle" dominant-baseline="central" transform="rotate(-35 499 154)" fill="#000">24</text>
<text x="468" y="191" font-size="11" font-weight="bold" font-style="italic" text-anchor="middle" dominant-baseline="central" transform="rotate(-70 468 191)" fill="#000">2</text>
<text x="534" y="177" font-size="11" font-weight="bold" font-style="italic" text-anchor="middle" dominant-baseline="central" transform="rotate(-20 534 177)" fill="#000">23</text>
<text x="393" y="233" font-size="11" font-weight="bold" font-style="italic" text-anchor="middle" dominant-baseline="central" transform="rotate(0 393 233)" fill="#000">24</text>
<text x="389" y="264" font-size="11" font-weight="bold" font-style="italic" text-anchor="middle" dominant-baseline="central" transform="rotate(-10 389 264)" fill="#000">23</text>
<text x="464" y="282" font-size="11" font-weight="bold" font-style="italic" text-anchor="middle" dominant-baseline="central" transform="rotate(40 464 282)" fill="#000">25</text>
<text x="416" y="358" font-size="11" font-weight="bold" font-style="italic" text-anchor="middle" dominant-baseline="central" transform="rotate(-60 416 358)" fill="#000">25</text>
<text x="295" y="300" font-size="11" font-weight="bold" font-style="italic" text-anchor="middle" dominant-baseline="central" transform="rotate(-10 295 300)" fill="#000">25</text>
<text x="320" y="312" font-size="11" font-weight="bold" font-style="italic" text-anchor="middle" dominant-baseline="central" transform="rotate(-60 320 312)" fill="#000">24</text>
<text x="340" y="386" font-size="11" font-weight="bold" font-style="italic" text-anchor="middle" dominant-baseline="central" transform="rotate(-20 340 386)" fill="#000">24</text>
<text x="282" y="411" font-size="11" font-weight="bold" font-style="italic" text-anchor="middle" dominant-baseline="central" transform="rotate(-5 282 411)" fill="#000">25</text>
<text x="281" y="393" font-size="11" font-weight="bold" font-style="italic" text-anchor="middle" dominant-baseline="central" transform="rotate(20 281 393)" fill="#000">24</text>
<text x="283" y="355" font-size="11" font-weight="bold" font-style="italic" text-anchor="middle" dominant-baseline="central" transform="rotate(-60 283 355)" fill="#000">2</text>
<text x="281" y="375" font-size="11" font-weight="bold" font-style="italic" text-anchor="middle" dominant-baseline="central" transform="rotate(-60 281 375)" fill="#000">2</text>
<text x="356" y="413" font-size="11" font-weight="bold" font-style="italic" text-anchor="middle" dominant-baseline="central" transform="rotate(0 356 413)" fill="#000">25</text>
<text x="371" y="437" font-size="11" font-weight="bold" font-style="italic" text-anchor="middle" dominant-baseline="central" transform="rotate(0 371 437)" fill="#000">5</text>
<text x="504" y="351" font-size="11" font-weight="bold" font-style="italic" text-anchor="middle" dominant-baseline="central" transform="rotate(-55 504 351)" fill="#000">26</text>
<text x="460" y="402" font-size="11" font-weight="bold" font-style="italic" text-anchor="middle" dominant-baseline="central" transform="rotate(80 460 402)" fill="#000">26</text>
<text x="438" y="477" font-size="11" font-weight="bold" font-style="italic" text-anchor="middle" dominant-baseline="central" transform="rotate(80 438 477)" fill="#000">26</text>
<text x="482" y="544" font-size="11" font-weight="bold" font-style="italic" text-anchor="middle" dominant-baseline="central" transform="rotate(0 482 544)" fill="#000">26</text>
<text x="553" y="444" font-size="11" font-weight="bold" font-style="italic" text-anchor="middle" dominant-baseline="central" transform="rotate(-20 553 444)" fill="#000">26</text>
<text x="384" y="558" font-size="11" font-weight="bold" font-style="italic" text-anchor="middle" dominant-baseline="central" transform="rotate(0 384 558)" fill="#000">25</text>
<text x="390" y="573" font-size="11" font-weight="bold" font-style="italic" text-anchor="middle" dominant-baseline="central" transform="rotate(0 390 573)" fill="#000">25</text>
<text x="449" y="587" font-size="11" font-weight="bold" font-style="italic" text-anchor="middle" dominant-baseline="central" transform="rotate(10 449 587)" fill="#000">25</text>
<text x="563" y="581" font-size="11" font-weight="bold" font-style="italic" text-anchor="middle" dominant-baseline="central" transform="rotate(-25 563 581)" fill="#000">25</text>
<text x="338" y="526" font-size="11" font-weight="bold" font-style="italic" text-anchor="middle" dominant-baseline="central" transform="rotate(0 338 526)" fill="#000">22</text>
<text x="331" y="556" font-size="11" font-weight="bold" font-style="italic" text-anchor="middle" dominant-baseline="central" transform="rotate(0 331 556)" fill="#000">24</text>
<text x="342" y="586" font-size="11" font-weight="bold" font-style="italic" text-anchor="middle" dominant-baseline="central" transform="rotate(0 342 586)" fill="#000">22</text>
<text x="360" y="573" font-size="11" font-weight="bold" font-style="italic" text-anchor="middle" dominant-baseline="central" transform="rotate(0 360 573)" fill="#000">23</text>
<text x="240" y="444" font-size="11" font-weight="bold" font-style="italic" text-anchor="middle" dominant-baseline="central" transform="rotate(-20 240 444)" fill="#000">25</text>
<text x="256" y="444" font-size="11" font-weight="bold" font-style="italic" text-anchor="middle" dominant-baseline="central" transform="rotate(-10 256 444)" fill="#000">24</text>
<text x="257" y="495" font-size="11" font-weight="bold" font-style="italic" text-anchor="middle" dominant-baseline="central" transform="rotate(40 257 495)" fill="#000">24</text>
<text x="318" y="452" font-size="11" font-weight="bold" font-style="italic" text-anchor="middle" dominant-baseline="central" transform="rotate(-60 318 452)" fill="#000">23</text>
<text x="287" y="578" font-size="11" font-weight="bold" font-style="italic" text-anchor="middle" dominant-baseline="central" transform="rotate(-70 287 578)" fill="#000">24</text>
<text x="544" y="308" font-size="11" font-weight="bold" font-style="italic" text-anchor="middle" dominant-baseline="central" transform="rotate(-10 544 308)" fill="#000">24</text>
<text x="572" y="188" font-size="11" font-weight="bold" font-style="italic" text-anchor="middle" dominant-baseline="central" transform="rotate(-20 572 188)" fill="#000">2</text>
<line x1="217.5" y1="76" x2="217.5" y2="599" stroke="#000" stroke-width="1"/>
<line x1="354.5" y1="76" x2="354.5" y2="599" stroke="#000" stroke-width="1"/>
<line x1="491.5" y1="76" x2="491.5" y2="599" stroke="#000" stroke-width="1"/>
<line x1="81" y1="250.5" x2="573" y2="250.5" stroke="#000" stroke-width="1"/>
<line x1="81" y1="424.5" x2="573" y2="424.5" stroke="#000" stroke-width="1"/>
</g>
<text x="83" y="592" font-size="19.5" font-weight="bold" font-style="italic" fill="#fff">20170731</text>
<rect x="79.5" y="74.5" width="495" height="526" fill="none" stroke="#000" stroke-width="3"/>
<line x1="81" y1="74.5" x2="148" y2="74.5" stroke="#fff" stroke-width="1"/><line x1="217" y1="74.5" x2="285" y2="74.5" stroke="#fff" stroke-width="1"/><line x1="354" y1="74.5" x2="422" y2="74.5" stroke="#fff" stroke-width="1"/><line x1="491" y1="74.5" x2="559" y2="74.5" stroke="#fff" stroke-width="1"/><line x1="81" y1="600.5" x2="148" y2="600.5" stroke="#fff" stroke-width="1"/><line x1="217" y1="600.5" x2="285" y2="600.5" stroke="#fff" stroke-width="1"/><line x1="354" y1="600.5" x2="422" y2="600.5" stroke="#fff" stroke-width="1"/><line x1="491" y1="600.5" x2="559" y2="600.5" stroke="#fff" stroke-width="1"/><line x1="79.5" y1="162" x2="79.5" y2="250" stroke="#fff" stroke-width="1"/><line x1="79.5" y1="337" x2="79.5" y2="424" stroke="#fff" stroke-width="1"/><line x1="79.5" y1="512" x2="79.5" y2="599" stroke="#fff" stroke-width="1"/><line x1="574.5" y1="162" x2="574.5" y2="250" stroke="#fff" stroke-width="1"/><line x1="574.5" y1="337" x2="574.5" y2="424" stroke="#fff" stroke-width="1"/><line x1="574.5" y1="512" x2="574.5" y2="599" stroke="#fff" stroke-width="1"/>
<rect x="79" y="74" width="1" height="1" fill="#fff"/><rect x="79" y="600" width="1" height="1" fill="#fff"/><rect x="574" y="74" width="1" height="1" fill="#fff"/><rect x="574" y="600" width="1" height="1" fill="#fff"/>
<text x="327" y="55" font-size="20" font-weight="bold" font-style="italic" text-anchor="middle" fill="#000">Temperture[-C] @ Depth[m]=Top</text>
<text x="0" y="0" font-size="14" font-style="italic" text-anchor="end" fill="#000" stroke="#000" stroke-width="0.3" transform="translate(73.5,82) scale(0.88,1)">39°N</text>
<text x="0" y="0" font-size="14" font-style="italic" text-anchor="end" fill="#000" stroke="#000" stroke-width="0.3" transform="translate(73.5,256.5) scale(0.88,1)">38.5°N</text>
<text x="0" y="0" font-size="14" font-style="italic" text-anchor="end" fill="#000" stroke="#000" stroke-width="0.3" transform="translate(73.5,430.5) scale(0.88,1)">38°N</text>
<text x="0" y="0" font-size="14" font-style="italic" text-anchor="end" fill="#000" stroke="#000" stroke-width="0.3" transform="translate(73.5,605) scale(0.88,1)">37.5°N</text>
<text x="0" y="0" font-size="14" font-style="italic" text-anchor="middle" fill="#000" stroke="#000" stroke-width="0.3" transform="translate(80.5,619) scale(0.88,1)">140.5°E</text>
<text x="0" y="0" font-size="14" font-style="italic" text-anchor="middle" fill="#000" stroke="#000" stroke-width="0.3" transform="translate(217.5,619) scale(0.88,1)">141°E</text>
<text x="0" y="0" font-size="14" font-style="italic" text-anchor="middle" fill="#000" stroke="#000" stroke-width="0.3" transform="translate(354.5,619) scale(0.88,1)">141.5°E</text>
<text x="0" y="0" font-size="14" font-style="italic" text-anchor="middle" fill="#000" stroke="#000" stroke-width="0.3" transform="translate(491.5,619) scale(0.88,1)">142°E</text>
<path d="M592.5,77 L599,70.5 L605.5,77 L605.5,599.5 L599,606 L592.5,599.5 Z" fill="url(#cb)" stroke="#000" stroke-width="1"/>
<text x="609" y="82.0" font-size="15" font-style="italic" fill="#000" stroke="#000" stroke-width="0.3" style="font-family:'Liberation Serif',serif">30</text>
<text x="609" y="169.1" font-size="15" font-style="italic" fill="#000" stroke="#000" stroke-width="0.3" style="font-family:'Liberation Serif',serif">25</text>
<text x="609" y="256.2" font-size="15" font-style="italic" fill="#000" stroke="#000" stroke-width="0.3" style="font-family:'Liberation Serif',serif">20</text>
<text x="609" y="343.29999999999995" font-size="15" font-style="italic" fill="#000" stroke="#000" stroke-width="0.3" style="font-family:'Liberation Serif',serif">15</text>
<text x="609" y="430.4" font-size="15" font-style="italic" fill="#000" stroke="#000" stroke-width="0.3" style="font-family:'Liberation Serif',serif">10</text>
<text x="609" y="517.5" font-size="15" font-style="italic" fill="#000" stroke="#000" stroke-width="0.3" style="font-family:'Liberation Serif',serif">5</text>
<text x="609" y="604.5999999999999" font-size="15" font-style="italic" fill="#000" stroke="#000" stroke-width="0.3" style="font-family:'Liberation Serif',serif">0</text>
<text x="0" y="0" font-size="10.8" font-weight="bold" font-style="italic" fill="#000" transform="translate(588,599) rotate(-90)">Ocean Data View</text>
</svg></body></html>
